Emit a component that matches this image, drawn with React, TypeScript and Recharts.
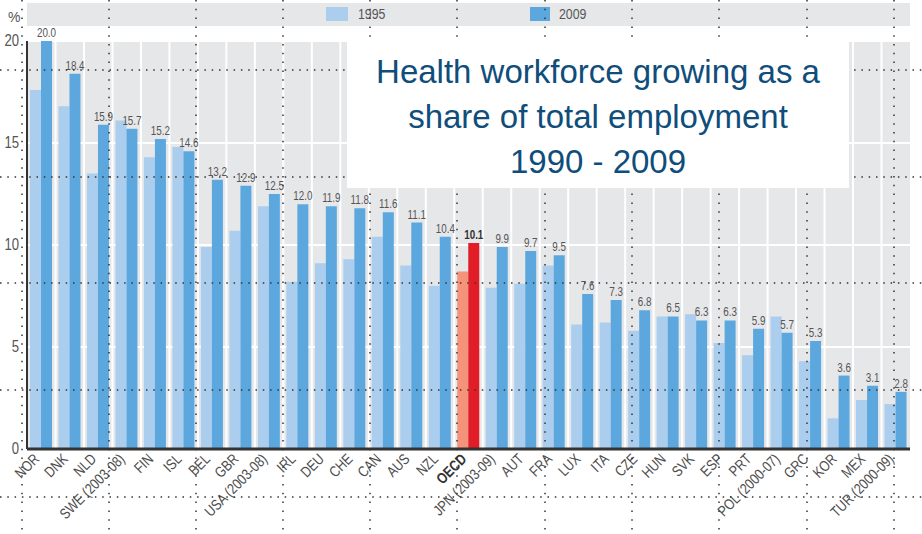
import React from 'react';
import { BarChart, Bar, XAxis, YAxis, CartesianGrid, Cell, LabelList, ReferenceLine } from 'recharts';

// Health workforce as % of total employment, 1995 vs 2009

const countries = [
  'NOR', 'DNK', 'NLD', 'SWE (2003-08)', 'FIN', 'ISL', 'BEL', 'GBR', 'USA (2003-08)', 'IRL',
  'DEU', 'CHE', 'CAN', 'AUS', 'NZL', 'OECD', 'JPN (2003-09)', 'AUT', 'FRA', 'LUX',
  'ITA', 'CZE', 'HUN', 'SVK', 'ESP', 'PRT', 'POL (2000-07)', 'GRC', 'KOR', 'MEX', 'TUR (2000-09)',
];

const share1995 = [
  17.6, 16.8, 13.5, 16.1, 14.3, 14.8, 9.9, 10.7, 11.9, 8.2,
  9.1, 9.3, 10.4, 9.0, 8.0, 8.7, 7.9, 8.1, 9.0, 6.1,
  6.2, 5.8, 6.5, 6.6, 5.2, 4.6, 6.5, 4.3, 1.5, 2.4, 2.2,
];

const share2009 = [
  20.0, 18.4, 15.9, 15.7, 15.2, 14.6, 13.2, 12.9, 12.5, 12.0,
  11.9, 11.8, 11.6, 11.1, 10.4, 10.1, 9.9, 9.7, 9.5, 7.6,
  7.3, 6.8, 6.5, 6.3, 6.3, 5.9, 5.7, 5.3, 3.6, 3.1, 2.8,
];

const yTicks = [0, 5, 10, 15, 20];

const titleLines = ['Health workforce growing as a', 'share of total employment', '1990 - 2009'];

const data = countries.map((c, i) => ({ country: c, y1995: share1995[i], y2009: share2009[i] }));

const SANS = "'Liberation Sans', Arial, sans-serif";
const SQUEEZE = 0.82; // the source uses a narrow face
const LIGHT = '#abcdee';
const DARK = '#5ca8de';
const OECD_LIGHT = '#f4927a';
const OECD_DARK = '#e11d27';

const CountryTick = (props: any) => {
  const { x, y, payload } = props;
  const isOecd = payload.value === 'OECD';
  return (
    <g transform={`translate(${x - 1},${y + 9})`}>
      <text
        textAnchor="end"
        transform={`rotate(-45) scale(${SQUEEZE},1)`}
        fontFamily={SANS}
        fontSize={15}
        fontWeight={isOecd ? 'bold' : 'normal'}
        fill={isOecd ? '#333' : '#4d4d4d'}
      >
        {payload.value}
      </text>
    </g>
  );
};

const PercentTick = (props: any) => {
  const { x, y, payload } = props;
  return (
    <text
      transform={`translate(${x},${y + 5}) scale(${SQUEEZE},1)`}
      textAnchor="end"
      fontFamily={SANS}
      fontSize={16}
      fill="#555"
    >
      {payload.value}
    </text>
  );
};

const ValueLabel = (props: any) => {
  const { x, y, width, value, index } = props;
  const isOecd = countries[index] === 'OECD';
  return (
    <text
      transform={`translate(${x + width / 2},${y - 4}) scale(${SQUEEZE},1)`}
      textAnchor="middle"
      fontFamily={SANS}
      fontSize={12}
      fontWeight={isOecd ? 'bold' : 'normal'}
      fill={isOecd ? '#333' : '#555'}
    >
      {Number(value).toFixed(1)}
    </text>
  );
};

// slide template guide dots
const dotRows = [70, 177, 283, 390, 497];
const dotCols = [22, 109, 196, 283, 370, 457, 545, 632, 719, 807, 894];

const App: React.FC = () => {
  return (
    <div style={{ position: 'absolute', left: 0, top: 0, width: 922, height: 534, background: '#fff' }}>
      {/* legend strip */}
      <div
        style={{
          position: 'absolute', left: 27, top: 3, width: 883, height: 23, background: '#e6e7e9',
          fontFamily: SANS, fontSize: 15, color: '#555',
        }}
      >
        <div style={{ position: 'absolute', left: 299, top: 4, width: 22, height: 14, background: LIGHT }} />
        <div style={{ position: 'absolute', left: 331, top: 2, transform: `scaleX(${SQUEEZE})`, transformOrigin: 'left' }}>1995</div>
        <div style={{ position: 'absolute', left: 503, top: 4, width: 20, height: 14, background: DARK }} />
        <div style={{ position: 'absolute', left: 532, top: 2, transform: `scaleX(${SQUEEZE})`, transformOrigin: 'left' }}>2009</div>
      </div>
      <div style={{ position: 'absolute', left: 8, top: 9, fontFamily: SANS, fontSize: 14, color: '#555' }}>%</div>

      <div style={{ position: 'absolute', left: 0, top: 0 }}>
        <BarChart
          width={922}
          height={534}
          data={data}
          margin={{ top: 41, right: 12, bottom: 0, left: 0 }}
          barGap={0}
          barSize={11}
        >
          <CartesianGrid vertical={false} stroke="#fff" strokeWidth={2} fill="#e6e7e9" />
          {countries.map((c) => (
            <ReferenceLine key={c} x={c} position="start" stroke="#fff" strokeWidth={2} />
          ))}
          <XAxis
            dataKey="country"
            interval={0}
            height={85}
            tickLine={false}
            tickSize={0}
            tick={<CountryTick />}
            axisLine={{ stroke: '#333', strokeWidth: 3 }}
          />
          <YAxis
            width={27}
            domain={[0, 20]}
            ticks={yTicks}
            tickLine={false}
            tickSize={4}
            tickMargin={4}
            axisLine={{ stroke: '#333', strokeWidth: 2 }}
            tick={<PercentTick />}
          />
          <Bar dataKey="y1995" fill={LIGHT} isAnimationActive={false}>
            {countries.map((c) => (
              <Cell key={c} fill={c === 'OECD' ? OECD_LIGHT : LIGHT} />
            ))}
          </Bar>
          <Bar dataKey="y2009" fill={DARK} isAnimationActive={false}>
            {countries.map((c) => (
              <Cell key={c} fill={c === 'OECD' ? OECD_DARK : DARK} />
            ))}
            <LabelList dataKey="y2009" content={<ValueLabel />} />
          </Bar>
        </BarChart>
      </div>

      <svg width={922} height={534} style={{ position: 'absolute', left: 0, top: 0, pointerEvents: 'none' }}>
        {dotRows.map((y) => (
          <line key={'r' + y} x1={0} x2={922} y1={y} y2={y} stroke="#333" strokeWidth={1.5} strokeDasharray="1.5 5.8" />
        ))}
        {dotCols.map((x) => (
          <line key={'c' + x} x1={x} x2={x} y1={0} y2={534} stroke="#333" strokeWidth={1.5} strokeDasharray="1.5 7.3" />
        ))}
      </svg>

      {/* title box */}
      <div
        style={{
          position: 'absolute', left: 347, top: 42, width: 502, height: 146, background: '#fff',
          fontFamily: SANS, fontSize: 33, lineHeight: '45px',
          color: '#0f4d7b', textAlign: 'center', paddingTop: 7, boxSizing: 'border-box',
        }}
      >
        {titleLines.map((t) => (
          <div key={t}>{t}</div>
        ))}
      </div>
    </div>
  );
};

export default App;
